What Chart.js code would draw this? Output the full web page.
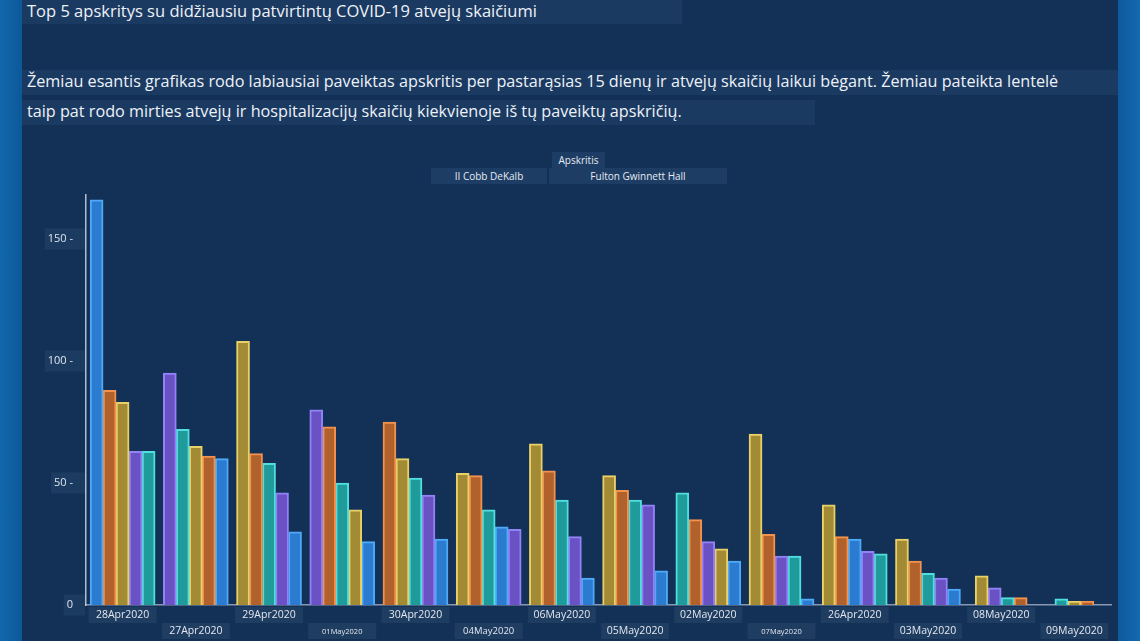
<!DOCTYPE html>
<html lang="lt">
<head>
<meta charset="utf-8">
<title>Top 5 apskritys</title>
<script src="https://cdn.jsdelivr.net/npm/chart.js@4.4.1/dist/chart.umd.min.js"></script>
<style>
  html, body { margin: 0; padding: 0; }
  body {
    width: 1140px; height: 641px; overflow: hidden; position: relative;
    background: linear-gradient(90deg, #1268ad 0, #0c58990 22px, #133157 22px, #133157 1118px, #0d5a9c 1118px, #1469b0 1140px);
    background: linear-gradient(90deg, #1268ad 0, #0c5899 22px, #133157 22px, #133157 1118px, #0d5a9c 1118px, #1469b0 1140px);
    font-family: "Open Sans", "Noto Sans", sans-serif;
    color: #eef2f8;
  }
  .strip { position: absolute; left: 22px; background: #1b3a62; }
  .txt { position: absolute; left: 27px; white-space: nowrap; line-height: 1; }
  .lg { position: absolute; background: #1e3d64; font-size: 10px; color: #e6ebf3; text-align: center; line-height: 16px; height: 16px; }
  #wrap { position: absolute; left: 0; top: 0; width: 1140px; height: 641px; }
</style>
</head>
<body>
<div class="strip" style="top:0;width:660px;height:24px"></div>
<div class="strip" style="top:70px;width:1096px;height:25px"></div>
<div class="strip" style="top:100px;width:793px;height:25px"></div>
<div class="txt" style="top:3px;font-size:16.5px">Top 5 apskritys su didžiausiu patvirtintų COVID-19 atvejų skaičiumi</div>
<div class="txt" style="top:73px;font-size:16.2px">Žemiau esantis grafikas rodo labiausiai paveiktas apskritis per pastarąsias 15 dienų ir atvejų skaičių laikui bėgant. Žemiau pateikta lentelė</div>
<div class="txt" style="top:103px;font-size:16.2px">taip pat rodo mirties atvejų ir hospitalizacijų skaičių kiekvienoje iš tų paveiktų apskričių.</div>

<div class="lg" style="left:552px;top:152px;width:53px">Apskritis</div>
<div class="lg" style="left:431px;top:168px;width:116px">II Cobb DeKalb</div>
<div class="lg" style="left:549px;top:168px;width:178px">Fulton Gwinnett Hall</div>

<div id="wrap"><canvas id="chart" width="1140" height="641"></canvas></div>

<script>
// Datos
const dates = ['28Apr2020', '27Apr2020', '29Apr2020', '01May2020', '30Apr2020', '04May2020', '06May2020',
               '05May2020', '02May2020', '07May2020', '26Apr2020', '03May2020', '08May2020', '09May2020'];

const counties = ['Cobb', 'DeKalb', 'Fulton', 'Gwinnett', 'Hall'];

const cobb     = [63, 95, 46, 80, 45, 31, 28, 41, 26, 20, 22, 11, 7, null];
const dekalb   = [63, 72, 58, 50, 52, 39, 43, 43, 46, 20, 21, 13, 3, 2.5];
const fulton   = [83, 65, 108, 39, 60, 54, 66, 53, 23, 70, 41, 27, 12, 1.5];
const gwinnett = [88, 61, 62, 73, 75, 53, 55, 47, 35, 29, 28, 18, 3, 1.5];
const hall     = [166, 60, 30, 26, 27, 32, 11, 14, 18, 2.5, 27, 6.5, null, null];

const yTicks = [0, 50, 100, 150];

// Couleurs
const fills   = ['#6a52c4', '#1f9b9b', '#a38a34', '#b0612c', '#2b7bd0'];
const borders = ['#9282f7', '#52dede', '#e9d168', '#f2924c', '#4eaaf7'];
const smallLabels = { '01May2020': 7.5, '07May2020': 7.5, '04May2020': 9.5 };

const series = [cobb, dekalb, fulton, gwinnett, hall];

// Barres triées dans chaque date (plus grand en premier)
const datasets = counties.map((c, rank) => ({
    label: 'rank' + (rank + 1),
    data: [],
    backgroundColor: [],
    borderColor: [],
    borderWidth: 2,
    barThickness: 13,
    skipNull: true
}));

dates.forEach((d, i) => {
    const order = series
        .map((s, k) => ({ v: s[i], k }))
        .filter(o => o.v !== null)
        .sort((a, b) => b.v - a.v);
    datasets.forEach((ds, rank) => {
        const o = order[rank];
        ds.data.push(o ? o.v : null);
        ds.backgroundColor.push(o ? fills[o.k] : 'transparent');
        ds.borderColor.push(o ? borders[o.k] : 'transparent');
    });
});

// Etiquettes de dates sur deux lignes
const dateLabels = {
    id: 'dateLabels',
    afterDraw(chart) {
        const ctx = chart.ctx;
        const x = chart.scales.x;
        ctx.save();
        dates.forEach((d, i) => {
            const cx = x.getPixelForValue(i);
            const row = i % 2;
            const top = row ? 623 : 607;
            ctx.fillStyle = '#1f3c61';
            ctx.fillRect(cx - 34, top, 68, 16);
            ctx.fillStyle = '#e3e8f0';
            ctx.font = (smallLabels[d] || 10.5) + 'px "Open Sans"';
            ctx.textAlign = 'center';
            ctx.textBaseline = 'middle';
            ctx.fillText(d, cx, top + 8.5);
        });
        ctx.restore();
    }
};

new Chart(document.getElementById('chart'), {
    type: 'bar',
    data: { labels: dates, datasets },
    plugins: [dateLabels],
    options: {
        responsive: false,
        animation: false,
        layout: { padding: { top: 195, bottom: 36, left: 26, right: 29 } },
        plugins: {
            legend: { display: false },
            tooltip: { enabled: false }
        },
        scales: {
            x: {
                grid: { display: false },
                ticks: { display: false },
                border: { display: true, color: '#8797b2', width: 1.5 },
                afterFit(scale) { scale.height = 0; }
            },
            y: {
                min: 0,
                max: 168,
                grid: { display: false, drawTicks: false },
                border: { display: true, color: 'rgba(215,225,240,0.8)', width: 1.5 },
                afterFit(scale) { scale.width = 60; },
                afterBuildTicks(scale) {
                    scale.ticks = yTicks.map(v => ({ value: v }));
                },
                ticks: {
                    padding: 13,
                    color: '#dfe5ee',
                    font: { family: 'Open Sans', size: 11 },
                    callback: v => v === 0 ? '0' : v + ' -',
                    showLabelBackdrop: true,
                    backdropColor: '#1c3b61',
                    backdropPadding: { left: 3, right: 12, top: 4, bottom: 4 }
                }
            }
        }
    }
});
</script>
</body>
</html>
